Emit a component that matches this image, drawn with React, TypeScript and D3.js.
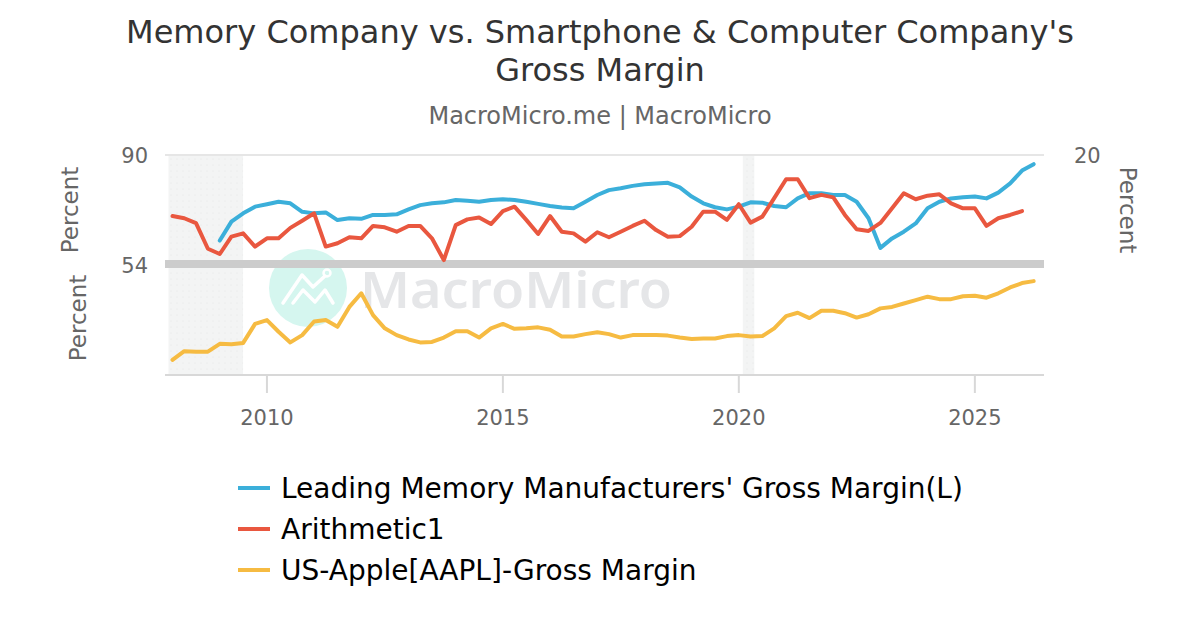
import React from 'react';
import * as d3 from 'd3';

// quarterly observations, 2008 Q1 .. 2026 Q2
const quarters: Date[] = d3.timeMonth.every(3)!.range(new Date(2008, 0, 1), new Date(2026, 6, 1));

// Leading Memory Manufacturers' Gross Margin (left axis), starts 2009 Q1
const memoryMargin: (number | null)[] = [
    null, null, null, null,
    62.0, 68.2, 70.9, 73.1,
    73.9, 74.7, 74.2, 71.4,
    70.9, 71.2, 68.7, 69.3,
    69.1, 70.4, 70.4, 70.6,
    72.2, 73.6, 74.2, 74.5,
    75.3, 75.0, 74.7, 75.3,
    75.5, 75.3, 74.7, 74.0,
    73.3, 72.8, 72.6, 74.7,
    76.9, 78.5, 79.1, 79.9,
    80.4, 80.7, 80.9, 79.4,
    76.4, 74.2, 72.9, 72.2,
    73.1, 74.5, 74.4, 73.3,
    72.9, 75.8, 77.5, 77.5,
    76.9, 76.9, 74.7, 69.3,
    59.6, 62.7, 64.9, 67.6,
    72.6, 74.7, 75.8, 76.2,
    76.4, 75.8, 77.7, 80.7,
    84.9, 87.0,
];

// Arithmetic1 (right axis)
const arithmetic1: (number | null)[] = [
    -2.2, -3.0, -4.8, -14.1,
    -16.0, -9.7, -8.5, -13.3,
    -10.3, -10.3, -6.5, -3.9,
    -1.2, -13.3, -12.1, -9.9,
    -10.3, -5.8, -6.3, -7.9,
    -5.8, -5.8, -10.3, -18.2,
    -5.5, -3.4, -2.7, -5.1,
    -0.4, 1.2, -3.6, -8.7,
    -2.2, -7.9, -8.5, -11.5,
    -8.1, -9.9, -7.9, -5.8,
    -3.9, -7.3, -9.7, -9.5,
    -6.1, -0.6, -0.6, -3.6,
    2.1, -4.6, -2.4, 4.3,
    11.2, 11.2, 4.3, 5.5,
    4.6, -1.8, -7.0, -7.6,
    -4.7, 0.6, 6.1, 3.9,
    5.2, 5.7, 2.4, 0.6,
    0.6, -5.8, -3.0, -1.8,
    -0.4, null,
];

// US-Apple[AAPL]-Gross Margin (lower pane)
const appleMargin: (number | null)[] = [
    31.1, 32.9, 32.8, 32.8,
    34.4, 34.3, 34.6, 38.5,
    39.3, 36.9, 34.7, 36.2,
    39.0, 39.3, 37.9, 42.0,
    44.8, 40.3, 37.6, 36.2,
    35.3, 34.7, 34.8, 35.7,
    37.0, 37.0, 35.7, 37.6,
    38.5, 37.5, 37.6, 37.8,
    37.3, 35.9, 35.9, 36.4,
    36.8, 36.4, 35.7, 36.2,
    36.2, 36.2, 36.1, 35.7,
    35.4, 35.5, 35.5, 36.0,
    36.2, 35.9, 36.0, 37.6,
    40.1, 40.8, 39.7, 41.2,
    41.2, 40.7, 39.8, 40.5,
    41.7, 42.0, 42.7, 43.4,
    44.1, 43.6, 43.6, 44.2,
    44.3, 43.9, 44.8, 46.0,
    46.9, 47.3,
];

const recessions: [Date, Date][] = [
    [new Date(2007, 11, 1), new Date(2009, 5, 30)],
    [new Date(2020, 1, 1), new Date(2020, 3, 30)],
];

const xTicks = [2010, 2015, 2020, 2025];
const leftTicks = [54, 90];
const rightTicks = [20];

const seriesNames = [
    "Leading Memory Manufacturers' Gross Margin(L)",
    'Arithmetic1',
    'US-Apple[AAPL]-Gross Margin',
];
const colors = ['#3bafda', '#e9573f', '#f6bb42'];

const FONT = '"DejaVu Sans", sans-serif';

const App: React.FC = () => {
    const width = 1200;
    const height = 630;
    const left = 165;
    const right = 1044;
    const topPane = { top: 155, bottom: 265 };
    const lowPane = { top: 268, bottom: 375 };

    const x = d3.scaleTime()
        .domain([new Date(2007, 10, 4), new Date(2026, 5, 20)])
        .range([left, right]);
    const yLeft = d3.scaleLinear().domain([54, 90]).range([topPane.bottom, topPane.top]);
    const yRight = d3.scaleLinear().domain([-20, 20]).range([topPane.bottom, topPane.top]);
    const yLow = d3.scaleLinear().domain([28, 50]).range([lowPane.bottom, lowPane.top]);

    const makeLine = (y: d3.ScaleLinear<number, number>) =>
        d3.line<number | null>()
            .defined((d) => d !== null)
            .x((_, i) => x(quarters[i]))
            .y((d) => y(d as number));

    const paths = [
        makeLine(yLeft)(memoryMargin),
        makeLine(yRight)(arithmetic1),
        makeLine(yLow)(appleMargin),
    ];

    return (
        <svg width={width} height={height} style={{ position: 'absolute', left: 0, top: 0, background: '#fff' }}
            fontFamily={FONT}>
            <defs>
                <pattern id="dots" width="6" height="6" patternUnits="userSpaceOnUse">
                    <rect width="6" height="6" fill="#f3f4f4" />
                    <circle cx="3" cy="3" r="0.6" fill="#e6e8e8" />
                </pattern>
            </defs>
            <rect width={width} height={height} fill="#fff" />

            {/* titles */}
            <text x={600} y={43} textAnchor="middle" fontSize={32} fill="#333">
                Memory Company vs. Smartphone &amp; Computer Company's
            </text>
            <text x={600} y={81} textAnchor="middle" fontSize={32} fill="#333">Gross Margin</text>
            <text x={600} y={124} textAnchor="middle" fontSize={24} fill="#666">MacroMicro.me | MacroMicro</text>

            {/* recession bands */}
            {recessions.map(([a, b], i) => (
                <rect key={i} x={x(a)} y={topPane.top} width={x(b) - x(a)} height={lowPane.bottom - topPane.top}
                    fill="url(#dots)" />
            ))}

            {/* watermark */}
            <g>
                <circle cx={308} cy={288} r={39} fill="#d5f6ef" />
                <polyline points="283,303 302,275 313,287 325,276" fill="none" stroke="#fff" strokeWidth={3.5}
                    strokeLinecap="round" strokeLinejoin="round" />
                <circle cx={327} cy={273} r={3.5} fill="none" stroke="#fff" strokeWidth={2.5} />
                <polyline points="293,303 303,290 315,302 325,290 333,303" fill="none" stroke="#fff" strokeWidth={3.5}
                    strokeLinecap="round" strokeLinejoin="round" />
                <text x={360} y={308} fontSize={50} fontWeight={600} fill="#e5e6e8"
                    fontFamily='"Noto Sans", sans-serif' textLength={312} lengthAdjust="spacingAndGlyphs">
                    MacroMicro
                </text>
            </g>

            {/* grid / pane lines */}
            <line x1={left} x2={right} y1={topPane.top} y2={topPane.top} stroke="#e6e6e6" strokeWidth={2} />
            <rect x={left} y={260} width={right - left} height={8} fill="#cccccc" />
            <line x1={left} x2={right} y1={lowPane.bottom} y2={lowPane.bottom} stroke="#d8d8d8" strokeWidth={2} />
            {xTicks.map((t) => {
                const px = x(new Date(t, 0, 1));
                return (
                    <g key={t}>
                        <line x1={px} x2={px} y1={lowPane.bottom} y2={lowPane.bottom + 18} stroke="#d8d8d8" strokeWidth={2} />
                        <text x={px} y={425} textAnchor="middle" fontSize={21} fill="#666">{t}</text>
                    </g>
                );
            })}

            {/* series */}
            {paths.map((d, i) => (
                <path key={i} d={d ?? ''} fill="none" stroke={colors[i]} strokeWidth={4}
                    strokeLinejoin="round" strokeLinecap="round" />
            ))}

            {/* y axes */}
            {leftTicks.map((t) => (
                <text key={t} x={148} y={yLeft(t) + 8} textAnchor="end" fontSize={21} fill="#666">{t}</text>
            ))}
            {rightTicks.map((t) => (
                <text key={t} x={1074} y={yRight(t) + 8} textAnchor="start" fontSize={21} fill="#666">{t}</text>
            ))}
            <text transform="translate(70,210) rotate(-90)" textAnchor="middle" dominantBaseline="central"
                fontSize={23} fill="#666">Percent</text>
            <text transform="translate(78,318) rotate(-90)" textAnchor="middle" dominantBaseline="central"
                fontSize={23} fill="#666">Percent</text>
            <text transform="translate(1128,210) rotate(90)" textAnchor="middle" dominantBaseline="central"
                fontSize={23} fill="#666">Percent</text>

            {/* legend */}
            {seriesNames.map((name, i) => {
                const cy = 488 + i * 41;
                return (
                    <g key={name}>
                        <line x1={238} x2={270} y1={cy} y2={cy} stroke={colors[i]} strokeWidth={4} />
                        <text x={281} y={cy + 10} fontSize={28} fill="#000">{name}</text>
                    </g>
                );
            })}
        </svg>
    );
};

export default App;
